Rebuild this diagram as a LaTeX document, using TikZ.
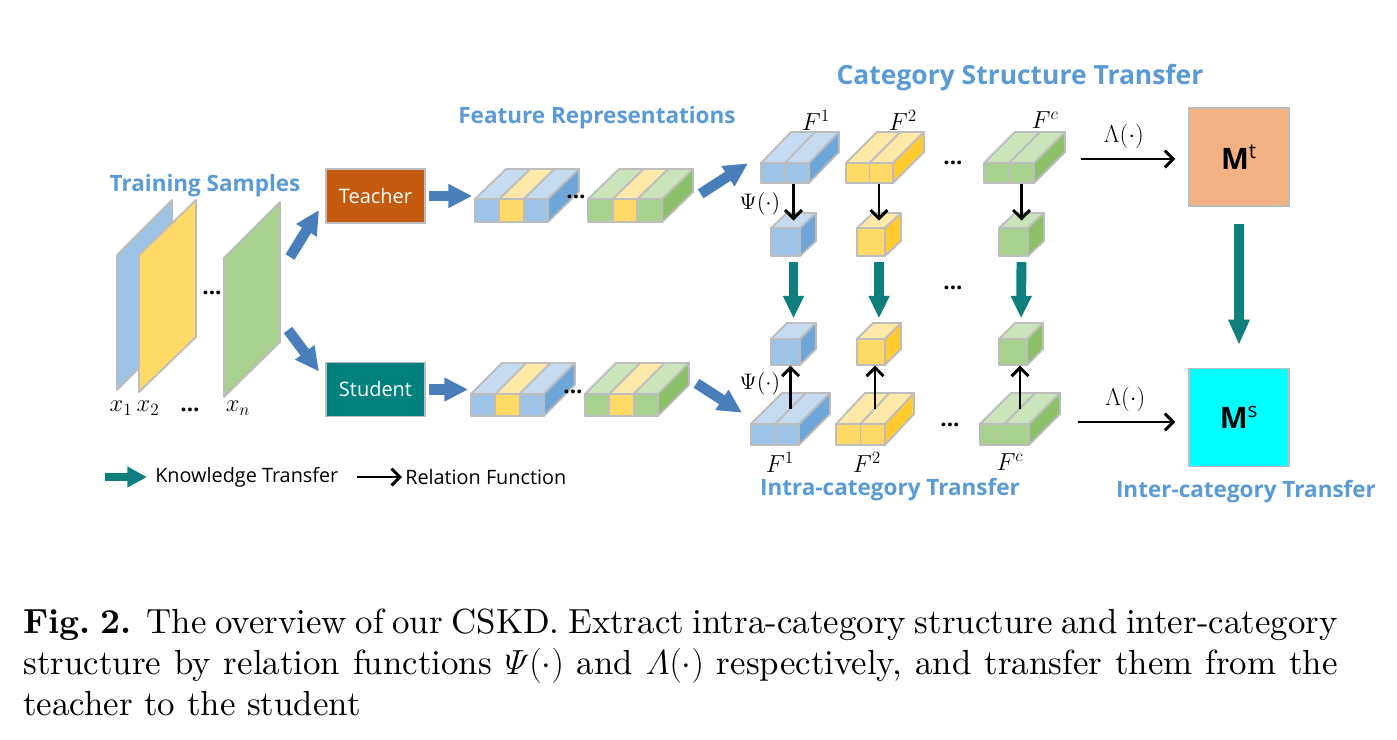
\documentclass[tikz,border=0pt]{standalone}
\usepackage{fix-cm}
\usepackage{amsmath}
\usepackage{fontspec}
\newfontfamily\diagfont{Open Sans}
\newfontfamily\capfont{lmroman10-regular.otf}[BoldFont=lmroman10-bold.otf, ItalicFont=lmroman10-italic.otf]
\usetikzlibrary{arrows.meta,positioning}

\definecolor{frontblue}{HTML}{9DC3E6}
\definecolor{topblue}{HTML}{C6DBF0}
\definecolor{sideblue}{HTML}{6FA6DA}
\definecolor{frontyellow}{HTML}{FFD966}
\definecolor{topyellow}{HTML}{FFE9A8}
\definecolor{sideyellow}{HTML}{FFCB2F}
\definecolor{frontgreen}{HTML}{A9D18E}
\definecolor{topgreen}{HTML}{CCE4BC}
\definecolor{sidegreen}{HTML}{8CC068}
\definecolor{facegray}{HTML}{BDBDBD}
\definecolor{titleblue}{HTML}{5B9BD5}
\definecolor{ktblue}{HTML}{4A7EBB}
\definecolor{ktteal}{HTML}{0E7F7E}
\definecolor{teacherfill}{HTML}{C55A11}
\definecolor{studentfill}{HTML}{00807E}
\definecolor{mtfill}{HTML}{F4B183}
\definecolor{msfill}{HTML}{00FFFF}

\tikzset{
  face/.style={draw=facegray, line width=1.3pt, line join=round},
  title/.style={font=\diagfont\bfseries\fontsize{16}{19}\selectfont, text=titleblue, inner sep=0},
  role/.style={draw=facegray, line width=1.4pt, minimum width=70.4pt, minimum height=38.4pt,
    text=white, font=\diagfont\fontsize{14.2}{16}\selectfont},
  matbox/.style={draw=facegray, line width=1.4pt, minimum width=71.1pt, minimum height=69.7pt,
    font=\diagfont\bfseries\fontsize{21}{24}\selectfont},
  kt/.style={line width=7.5pt, -{Triangle[length=17pt, width=16pt]}},
  rel/.style={line width=2.1pt, -{Straight Barb[length=6pt, width=12pt]}},
  lbl/.style={font=\fontsize{17.5}{19}\selectfont, inner sep=0},
  fun/.style={font=\fontsize{16}{18}\selectfont, inner sep=0},
  dots/.style={font=\diagfont\bfseries\fontsize{16}{18}\selectfont, inner sep=0},
  legend/.style={font=\diagfont\fontsize{14.1}{16}\selectfont, inner sep=0, anchor=west}
}

% name, front top-left corner, cells, cell width, height, depth x, depth y, colours
\newcommand{\cuboid}[8]{%
  \begin{scope}[shift={#2}]
    \foreach \c [count=\i from 0] in {#8}{
      \draw[face, fill=top\c] (\i*#4,0) -- ++(#6,-#7) -- ++(#4,0) -- ++(-#6,#7) -- cycle;
      \draw[face, fill=front\c] (\i*#4,0) rectangle ++(#4,#5);
      \ifnum\i=\numexpr#3-1\relax
        \draw[face, fill=side\c] ({(\i+1)*#4},0) -- ++(#6,-#7) -- ++(0,#5) -- ++(-#6,#7) -- cycle;
      \fi
    }
    \node[inner sep=0, minimum width={#3*#4*0.7113pt}, minimum height={#5*0.7113pt},
      anchor=north west] (#1) at (0,0) {};
    \coordinate (#1-top) at ({(#3*#4+#6)/2},{-#7/2});
  \end{scope}}

\begin{document}
\begin{tikzpicture}[x=0.025cm, y=-0.025cm]
\useasboundingbox[fill=white] (0,0) rectangle (1397,739);

% Titles
\node[title] (samples) at (205,186) {Training Samples};
\node[title] (features) at (597,118) {Feature Representations};
\node[title, font=\diagfont\bfseries\fontsize{18.8}{22}\selectfont] (structure) at (1020,78) {Category Structure Transfer};
\node[title] (intra) at (890,490) {Intra-category Transfer};
\node[title] (inter) at (1246,492) {Inter-category Transfer};

% Training samples
\draw[face, fill=frontblue] (117,390) -- (117,255) -- (172,200) -- (172,335) -- cycle;
\draw[face, fill=frontyellow] (139,392) -- (139,255) -- (196,200) -- (196,337) -- cycle;
\draw[face, fill=frontgreen] (224,397) -- (224,258) -- (280,202) -- (280,342) -- cycle;
\node[dots] at (212,293) {...};
\node[lbl] (x1) at (121,408) {$x_1$};
\node[lbl] (x2) at (148,408) {$x_2$};
\node[dots] at (190,410) {...};
\node[lbl] (xn) at (238,408) {$x_n$};

% Networks
\node[role, fill=teacherfill] (teacher) at (375.5,196) {Teacher};
\node[role, fill=studentfill] (student) at (375.5,389.5) {Student};
\coordinate (sa) at (290,257);
\coordinate (sb) at (288,330);
\draw[kt, ktblue] (sa) -- ([shift={(-6,-14)}]teacher.south west);
\draw[kt, ktblue] (sb) -- ([shift={(-6,10)}]student.north west);

% Feature representations
\cuboid{ft1}{(475,199)}{3}{24.3}{23}{31}{30}{blue,yellow,blue}
\cuboid{ft2}{(588,199)}{3}{24.7}{23}{31}{30}{green,yellow,green}
\cuboid{fs1}{(471,394)}{3}{24.3}{22}{31}{31}{blue,yellow,blue}
\cuboid{fs2}{(585,394)}{3}{24.3}{22}{31}{31}{green,yellow,green}
\node[dots] at (576,197) {...};
\node[dots] at (573,392) {...};
\draw[kt, ktblue, shorten <=2pt, shorten >=2pt] (teacher.east) -- (teacher.east -| ft1.west);
\draw[kt, ktblue, shorten <=2pt, shorten >=2pt] (student.east) -- (student.east -| fs1.west);

% Categories
\cuboid{ct1}{(761,163)}{2}{24}{20}{30}{31}{blue,blue}
\cuboid{ct2}{(846,163)}{2}{23.5}{20}{31}{31}{yellow,yellow}
\cuboid{ctc}{(984,163)}{2}{25}{20}{31}{31}{green,green}
\cuboid{pt1}{(771,228)}{1}{29}{28}{16}{15}{blue}
\cuboid{pt2}{(857,228)}{1}{28}{28}{16}{15}{yellow}
\cuboid{ptc}{(999,228)}{1}{29}{28}{16}{15}{green}
\cuboid{ps1}{(771,339)}{1}{29}{26}{16}{16}{blue}
\cuboid{ps2}{(857,339)}{1}{28}{26}{16}{16}{yellow}
\cuboid{psc}{(999,339)}{1}{28}{26}{16}{16}{green}
\cuboid{cs1}{(751,424)}{2}{24}{21}{31}{31}{blue,blue}
\cuboid{cs2}{(836,424)}{2}{24.5}{21}{29}{31}{yellow,yellow}
\cuboid{csc}{(980,424)}{2}{24.5}{21}{31}{31}{green,green}
\node[dots] at (953,163) {...};
\node[dots] at (953,288) {...};
\node[dots] at (950,425) {...};
\draw[kt, ktblue] ([shift={(38,-17)}]ft2.east) -- ([shift={(-13,-10)}]ct1.west);
\draw[kt, ktblue] ([shift={(38,-22)}]fs2.east) -- ([shift={(-9,-22)}]cs1.west);

% Labels
\node[lbl] at (816,120) {$F^1$};
\node[lbl] at (903,120) {$F^2$};
\node[lbl] at (1045,120) {$F^c$};
\node[lbl] at (780,462) {$F^1$};
\node[lbl] at (867,462) {$F^2$};
\node[lbl] at (1010,462) {$F^c$};
\node[fun] at (760,204) {$\Psi(\cdot)$};
\node[fun] at (760,384) {$\Psi(\cdot)$};

% Relation functions
\foreach \k in {1,2,c}{
  \draw[rel] (ct\k.south -| pt\k-top) -- (pt\k-top);
  \draw[rel] (cs\k-top) -- (cs\k-top |- ps\k.south);
  \draw[kt, ktteal, line width=7pt, -{Triangle[length=16pt, width=14pt]}, shorten <=4pt, shorten >=9pt]
    (pt\k.south -| pt\k-top) -- (ps\k-top);
}

% Inter-category structure
\node[matbox, fill=mtfill] (mt) at (1239,157) {M\textsuperscript{\mdseries t}};
\node[matbox, fill=msfill] (ms) at (1239,417.5) {M\textsuperscript{\mdseries s}};
\coordinate (lamt) at (1081,159);
\coordinate (lams) at (1078,422);
\draw[rel, shorten >=9pt] (lamt) -- node[fun, above=6pt, pos=0.4, font=\fontsize{17.5}{19}\selectfont] {$\Lambda(\cdot)$} (lamt -| mt.west);
\draw[rel, shorten >=9pt] (lams) -- node[fun, above=6pt, pos=0.43, font=\fontsize{17.5}{19}\selectfont] {$\Lambda(\cdot)$} (lams -| ms.west);
\draw[kt, ktteal, line width=7pt, -{Triangle[length=18pt, width=14pt]}, shorten <=12pt, shorten >=16pt] (mt.south) -- (ms.north);

% Legend
\coordinate (kta) at (105,477);
\draw[kt, ktteal, line width=6pt, -{Triangle[length=14pt, width=14pt]}] (kta) -- ++(42,0) coordinate (ktb);
\node[legend] (ktext) at (155,477) {Knowledge Transfer};
\coordinate (rela) at (357,477);
\draw[rel] (rela) -- ++(45,0) coordinate (relb);
\node[legend] (rtext) at (405,477) {Relation Function};

% Caption
\node[anchor=base west, inner sep=0] (caption) at (23,633) {\parbox[t]{934.7pt}{\capfont\fontsize{24.8}{29.5}\selectfont
  \textbf{Fig.~2.} The overview of our CSKD. Extract intra-category structure and inter-category\linebreak
  structure by relation functions $\varPsi(\cdot)$ and $\varLambda(\cdot)$ respectively, and transfer them from the\linebreak
  teacher to the student}};
\end{tikzpicture}
\end{document}
